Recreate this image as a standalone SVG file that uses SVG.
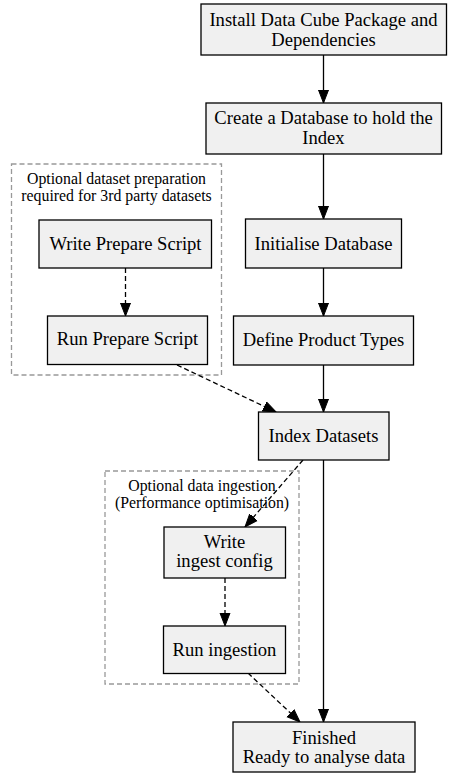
<svg xmlns="http://www.w3.org/2000/svg" width="465" height="778" viewBox="0 0 465 778">
<style>
.node rect{fill:#f0f0f0;stroke:#000;stroke-width:1.3}
.node text{font-family:'Liberation Serif','Times New Roman',serif;font-size:18.6px;text-anchor:middle;fill:#000}
.cluster rect{fill:none;stroke:#999;stroke-width:1.3;stroke-dasharray:5,3}
.cluster text{font-family:'Liberation Serif','Times New Roman',serif;font-size:15.8px;text-anchor:middle;fill:#000}
.edge{fill:none;stroke:#000;stroke-width:1.3}
.dash{stroke-dasharray:5,3}
</style>
<defs>
<marker id="ah" markerUnits="userSpaceOnUse" markerWidth="14" markerHeight="12" refX="13" refY="5" orient="auto" viewBox="0 0 14 10">
<path d="M0,0 L13,5 L0,10 Z" fill="#000" stroke="#000" stroke-width="1"/>
</marker>
</defs>
<rect width="465" height="778" fill="#fff"/>
<g id="cluster_prep" class="cluster">
<rect x="11.5" y="164" width="210" height="211"/>
<text x="116.5" y="183.5">Optional dataset preparation</text>
<text x="116.5" y="200.5">required for 3rd party datasets</text>
</g>
<g id="cluster_ingest" class="cluster">
<rect x="105" y="471" width="194" height="213"/>
<text x="202" y="490.5">Optional data ingestion</text>
<text x="202" y="507.5">(Performance optimisation)</text>
</g>
<g id="connectors">
<path class="edge" d="M323.5,55 L323.5,103" marker-end="url(#ah)"/>
<path class="edge" d="M323.5,154 L323.5,219" marker-end="url(#ah)"/>
<path class="edge" d="M323.5,268 L323.5,316" marker-end="url(#ah)"/>
<path class="edge" d="M323.5,365 L323.5,412" marker-end="url(#ah)"/>
<path class="edge" d="M323.5,460 L323.5,722" marker-end="url(#ah)"/>
<path class="edge dash" d="M125.5,268 L125.5,316" marker-end="url(#ah)"/>
<path class="edge dash" d="M177,365 L276,412" marker-end="url(#ah)"/>
<path class="edge dash" d="M303,460 L245,527" marker-end="url(#ah)"/>
<path class="edge dash" d="M225,578 L225,626" marker-end="url(#ah)"/>
<path class="edge dash" d="M248,673 L300,722" marker-end="url(#ah)"/>
</g>
<g id="install" class="node">
<rect x="201" y="4" width="245.5" height="51"/>
<text x="323.5" y="25.5">Install Data Cube Package and</text>
<text x="323.5" y="45.5">Dependencies</text>
</g>
<g id="create_db" class="node">
<rect x="206" y="103" width="235.5" height="51"/>
<text x="323.5" y="123.5">Create a Database to hold the</text>
<text x="323.5" y="143.5">Index</text>
</g>
<g id="init_db" class="node">
<rect x="245.5" y="219" width="156" height="49"/>
<text x="323.5" y="249.5">Initialise Database</text>
</g>
<g id="define_types" class="node">
<rect x="233.5" y="316" width="180" height="49"/>
<text x="323.5" y="345.5">Define Product Types</text>
</g>
<g id="index_datasets" class="node">
<rect x="258.5" y="412" width="130.5" height="48"/>
<text x="323.5" y="441.5">Index Datasets</text>
</g>
<g id="write_prepare" class="node">
<rect x="39" y="220" width="172.5" height="48"/>
<text x="125.5" y="249.5">Write Prepare Script</text>
</g>
<g id="run_prepare" class="node">
<rect x="47.5" y="316" width="160" height="48.5"/>
<text x="127.5" y="344.5">Run Prepare Script</text>
</g>
<g id="write_ingest" class="node">
<rect x="164" y="527" width="121.5" height="51"/>
<text x="224.5" y="547.5">Write</text>
<text x="224.5" y="566.5">ingest config</text>
</g>
<g id="run_ingestion" class="node">
<rect x="163.5" y="626" width="122" height="47.5"/>
<text x="224.5" y="655.5">Run ingestion</text>
</g>
<g id="finished" class="node">
<rect x="233" y="722" width="182" height="50"/>
<text x="324" y="743.5">Finished</text>
<text x="324" y="762.5">Ready to analyse data</text>
</g>
</svg>
